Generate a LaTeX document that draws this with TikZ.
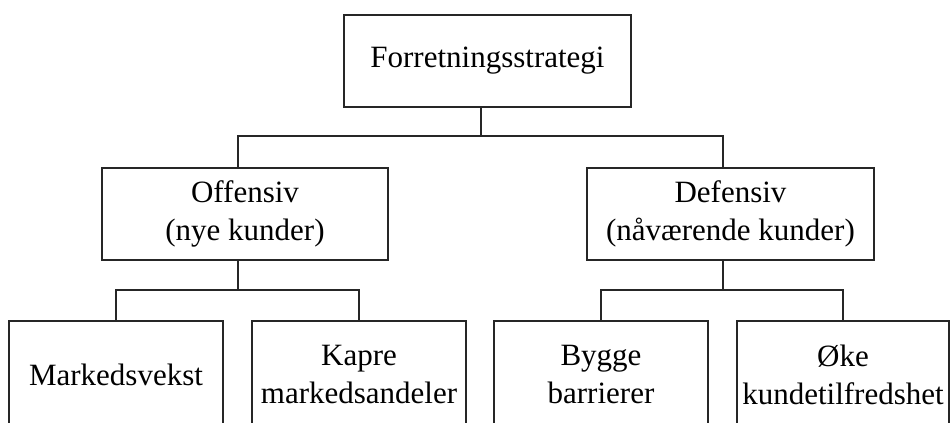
\documentclass[tikz,border=0pt]{standalone}
\usepackage{fontspec}
\setmainfont{Liberation Serif}
\begin{document}
\begin{tikzpicture}[x=0.5pt,y=-0.5pt,
  box/.style={draw=black!85, line width=1pt, fill=white, inner sep=0pt, align=center,
    font=\fontsize{15.5}{19}\selectfont},
  link/.style={draw=black!85, line width=1pt}]
\useasboundingbox (0,0) rectangle (950,423);
\fill[white] (0,0) rectangle (950,423);
\node[box, minimum width=143.5pt, minimum height=46pt] (top) at (487.5,61) {Forretningsstrategi};
\node[box, minimum width=143pt, minimum height=46pt] (off) at (245,214) {Offensiv\\(nye kunder)};
\node[box, minimum width=143.5pt, minimum height=46pt] (def) at (730.5,214) {Defensiv\\(nåværende kunder)};
\node[box, minimum width=107pt, minimum height=54pt] (mark) at (116,375) {Markedsvekst};
\node[box, minimum width=107pt, minimum height=54pt] (kapre) at (359,375) {Kapre\\markedsandeler};
\node[box, minimum width=107pt, minimum height=54pt] (bygge) at (601,375) {Bygge\\barrierer};
\node[box, minimum width=106pt, minimum height=54pt] (oke) at (843,375) {Øke\\kundetilfredshet};
\coordinate (j0) at (481,136);
\coordinate (jL) at (238,290);
\coordinate (jR) at (723,290);
\draw[link] (top.south -| j0) -- (j0);
\draw[link] (off.north -| jL) |- (j0) -| (def.north -| jR);
\draw[link] (off.south -| jL) -- (jL);
\draw[link] (def.south -| jR) -- (jR);
\draw[link] (mark.north) |- (jL) -| (kapre.north);
\draw[link] (bygge.north) |- (jR) -| (oke.north);
\end{tikzpicture}
\end{document}
